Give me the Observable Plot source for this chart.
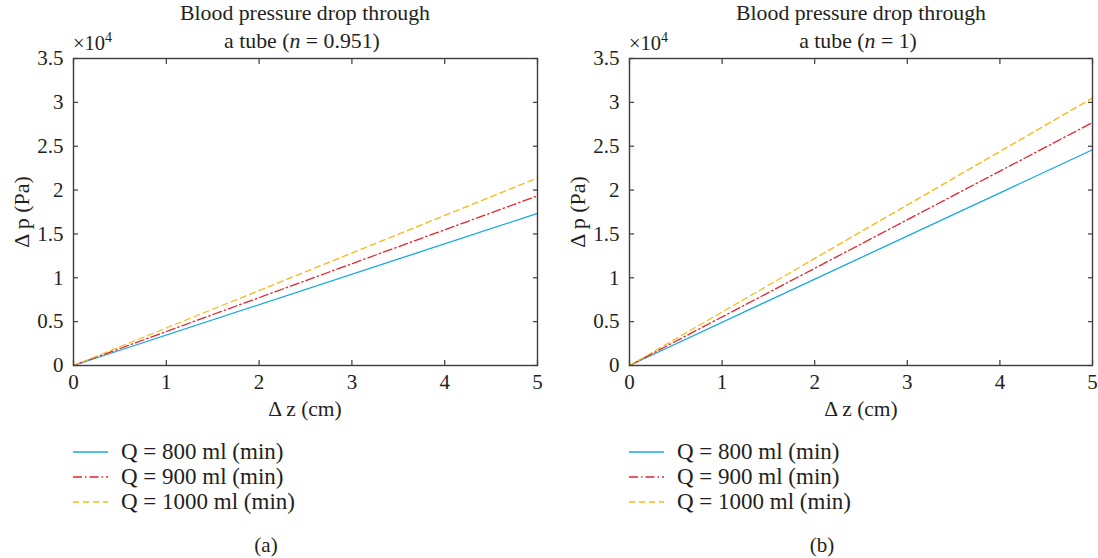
<!DOCTYPE html>
<html><head><meta charset="utf-8">
<script src="https://cdn.jsdelivr.net/npm/d3@7"></script>
<script src="https://cdn.jsdelivr.net/npm/@observablehq/plot@0.6"></script>
<style>
body{margin:0;background:#fff;font-family:"Liberation Serif",serif;color:#231f20;}
#root{position:relative;width:1098px;height:558px;overflow:hidden;background:#fff}
.abs{position:absolute;white-space:nowrap;font-size:21.5px;line-height:1}
.c{transform:translate(-50%,-50%)}
.lg{position:absolute;display:flex;align-items:center;font-size:23px;white-space:nowrap}
.lg svg{margin-right:13px}
</style></head><body><div id="root"></div>
<script>
// ---- data ----
const dz = [0, 5];                                   // Δz (cm)
const seriesNames = ["Q = 800 ml (min)", "Q = 900 ml (min)", "Q = 1000 ml (min)"];
const seriesColors = ["#14a8e3", "#e3262d", "#fbb917"];
const seriesDash = [null, "9,3,1.5,3", "6,4"];
// panel (a): n = 0.951, Δp (Pa)
const dpA_800 = [0, 17340];
const dpA_900 = [0, 19340];
const dpA_1000 = [0, 21390];
// panel (b): n = 1, Δp (Pa)
const dpB_800 = [0, 24600];
const dpB_900 = [0, 27700];
const dpB_1000 = [0, 30500];
const xTicks = [0, 1, 2, 3, 4, 5];
const yTicks = [0, 5000, 10000, 15000, 20000, 25000, 30000, 35000];
const titlesA = ["Blood pressure drop through", "a tube (<i>n</i> = 0.951)"];
const titlesB = ["Blood pressure drop through", "a tube (<i>n</i> = 1)"];
const xLabel = "Δ z (cm)";
const yLabel = "Δ p (Pa)";
const captions = ["(a)", "(b)"];

const root = document.getElementById("root");
const axisColor = "#3c3c3c";

function panel(series, left, width, marginRight) {
  const rows = [];
  series.forEach((vals, i) => vals.forEach((v, j) => rows.push({s: seriesNames[i], x: dz[j], y: v})));
  const marks = [];
  series.forEach((vals, i) => {
    marks.push(Plot.line(rows.filter(d => d.s === seriesNames[i]), {
      x: "x", y: "y", stroke: seriesColors[i], strokeWidth: 1.3,
      strokeDasharray: seriesDash[i] || undefined
    }));
  });
  const blank = () => "";
  const plot = Plot.plot({
    width, height: 420,
    marginLeft: 73, marginRight, marginTop: 58, marginBottom: 55,
    style: {fontFamily: "Liberation Serif", fontSize: "21px", color: "#231f20", background: "transparent", overflow: "visible"},
    x: {domain: [0, 5]},
    y: {domain: [0, 35000]},
    marks: [
      ...marks,
      Plot.axisX(xTicks, {anchor: "bottom", tickSize: -5, tickFormat: blank, label: null, stroke: axisColor, strokeWidth: 1.2}),
      Plot.axisX(xTicks, {anchor: "top", tickSize: -5, tickFormat: blank, label: null, stroke: axisColor, strokeWidth: 1.2}),
      Plot.axisY(yTicks, {anchor: "left", tickSize: -5, tickFormat: blank, label: null, stroke: axisColor, strokeWidth: 1.2}),
      Plot.axisY(yTicks, {anchor: "right", tickSize: -5, tickFormat: blank, label: null, stroke: axisColor, strokeWidth: 1.2}),
      Plot.axisX(xTicks, {anchor: "bottom", tickSize: 0, tickPadding: 9, label: null, fill: "#231f20"}),
      Plot.axisY(yTicks, {anchor: "left", tickSize: 0, tickPadding: 10, label: null, fill: "#231f20", tickFormat: d => String(d / 1e4)}),
      Plot.frame({stroke: axisColor, strokeWidth: 1.4})
    ]
  });
  plot.style.position = "absolute";
  plot.style.left = left + "px";
  plot.style.top = "0px";
  root.appendChild(plot);
}

panel([dpA_800, dpA_900, dpA_1000], 0, 549, 12);
panel([dpB_800, dpB_900, dpB_1000], 556, 541, 5);

function addText(html, x, y, size) {
  const d = document.createElement("div");
  d.className = "abs c";
  d.innerHTML = html;
  d.style.left = x + "px"; d.style.top = y + "px";
  if (size) d.style.fontSize = size + "px";
  root.appendChild(d);
  return d;
}

function decorate(titles, ox, cx, caption) {
  addText(titles[0], cx, 14, 21.8);
  addText(titles[1], cx - 3, 42, 21.8);
  const m = document.createElement("div");
  m.className = "abs";
  m.innerHTML = "×10<sup style='font-size:14px;vertical-align:8px'>4</sup>";
  m.style.left = (ox + 73) + "px"; m.style.top = "31px";
  m.style.fontSize = "20.5px";
  root.appendChild(m);
  const yl = addText(yLabel, ox + 22, 212, 22);
  yl.style.transform = "translate(-50%,-50%) rotate(-90deg)";
  addText(xLabel, cx, 410, 21.5);
  seriesNames.forEach((name, i) => {
    const row = document.createElement("div");
    row.className = "lg";
    row.style.left = (ox + 73) + "px";
    row.style.top = (441 + i * 25) + "px";
    row.style.height = "22px";
    const dash = seriesDash[i] ? `stroke-dasharray="${seriesDash[i]}"` : "";
    row.innerHTML = `<svg width="35" height="22"><line x1="0" x2="35" y1="11" y2="11" stroke="${seriesColors[i]}" stroke-width="1.3" ${dash}/></svg><span>${name}</span>`;
    root.appendChild(row);
  });
  addText(caption, cx - 39, 545, 21);
}
decorate(titlesA, 0, 305, captions[0]);
decorate(titlesB, 556, 861, captions[1]);
</script></body></html>
